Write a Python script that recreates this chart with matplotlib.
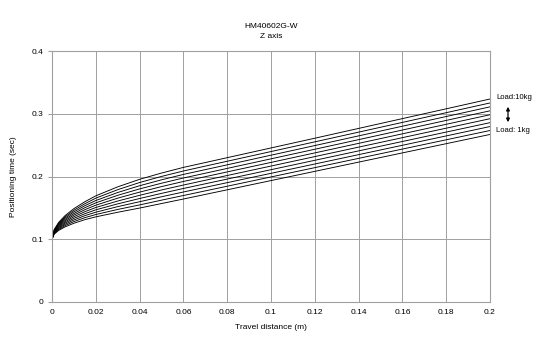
import matplotlib
matplotlib.use("Agg")
import matplotlib.pyplot as plt

# Travel distance (m)
distance = [0, 0.001, 0.003, 0.006, 0.01, 0.015, 0.02, 0.03, 0.04, 0.05, 0.06, 0.08, 0.12, 0.2]

# Positioning time (sec) per load (kg)
load_1kg  = [0.100, 0.1081, 0.1140, 0.1198, 0.1255, 0.1312, 0.1357, 0.1430, 0.1497, 0.1569, 0.1641, 0.1788, 0.2082, 0.2670]
load_2kg  = [0.100, 0.1089, 0.1154, 0.1218, 0.1281, 0.1344, 0.1394, 0.1475, 0.1547, 0.1623, 0.1697, 0.1845, 0.2141, 0.2733]
load_3kg  = [0.100, 0.1097, 0.1168, 0.1238, 0.1307, 0.1376, 0.1431, 0.1520, 0.1598, 0.1677, 0.1753, 0.1902, 0.2199, 0.2796]
load_4kg  = [0.100, 0.1105, 0.1182, 0.1258, 0.1333, 0.1407, 0.1469, 0.1564, 0.1649, 0.1731, 0.1809, 0.1959, 0.2258, 0.2858]
load_5kg  = [0.100, 0.1113, 0.1196, 0.1278, 0.1359, 0.1439, 0.1506, 0.1609, 0.1700, 0.1785, 0.1864, 0.2016, 0.2317, 0.2921]
load_6kg  = [0.100, 0.1122, 0.1211, 0.1298, 0.1385, 0.1471, 0.1543, 0.1655, 0.1751, 0.1839, 0.1921, 0.2073, 0.2376, 0.2984]
load_7kg  = [0.100, 0.1130, 0.1225, 0.1318, 0.1410, 0.1503, 0.1580, 0.1700, 0.1802, 0.1893, 0.1976, 0.2129, 0.2434, 0.3047]
load_8kg  = [0.100, 0.1138, 0.1239, 0.1338, 0.1436, 0.1535, 0.1617, 0.1745, 0.1853, 0.1947, 0.2033, 0.2186, 0.2493, 0.3110]
load_9kg  = [0.100, 0.1146, 0.1253, 0.1358, 0.1462, 0.1566, 0.1655, 0.1790, 0.1904, 0.2001, 0.2088, 0.2243, 0.2552, 0.3172]
load_10kg = [0.100, 0.1154, 0.1267, 0.1378, 0.1488, 0.1598, 0.1692, 0.1835, 0.1955, 0.2055, 0.2145, 0.2300, 0.2610, 0.3235]

series = [load_1kg, load_2kg, load_3kg, load_4kg, load_5kg,
          load_6kg, load_7kg, load_8kg, load_9kg, load_10kg]

x_ticks = [0, 0.02, 0.04, 0.06, 0.08, 0.1, 0.12, 0.14, 0.16, 0.18, 0.2]
x_tick_labels = ["0", "0.02", "0.04", "0.06", "0.08", "0.1", "0.12", "0.14", "0.16", "0.18", "0.2"]
y_ticks = [0, 0.1, 0.2, 0.3, 0.4]
y_tick_labels = ["0", "0.1", "0.2", "0.3", "0.4"]

plt.rcParams['font.family'] = ['Liberation Sans', 'DejaVu Sans']
fig = plt.figure(figsize=(5.5, 3.52), dpi=100)
ax = fig.add_axes([52/550, 1-302/352, (490-52)/550, (302-51)/352])

for s in series:
    ax.plot(distance, s, color='black', linewidth=0.65, solid_joinstyle='round')

ax.set_xlim(0, 0.2)
ax.set_ylim(0, 0.4)
ax.set_xticks(x_ticks)
ax.set_xticklabels(x_tick_labels)
ax.set_yticks(y_ticks)
ax.set_yticklabels(y_tick_labels)
ax.tick_params(axis='x', length=0, labelsize=6, pad=5)
ax.tick_params(axis='y', length=3, color='#a0a0a0', labelsize=6, pad=3)
ax.grid(True, color='#a0a0a0', linewidth=0.7)
ax.set_axisbelow(True)
for sp in ax.spines.values():
    sp.set_color('#a0a0a0')
    sp.set_linewidth(0.8)

ax.set_xlabel("Travel distance (m)", fontsize=6, labelpad=6)
ax.set_ylabel("Positioning time (sec)", fontsize=6, labelpad=11)

fig.text(271/550, 1-27/352, "HM40602G-W", ha='center', va='center', fontsize=6)
fig.text(271/550, 1-37/352, "Z axis", ha='center', va='center', fontsize=6)

fig.text(496/550, 1-98/352, "Load:10kg", ha='left', va='center', fontsize=5.5)
fig.text(496/550, 1-131/352, "Load: 1kg", ha='left', va='center', fontsize=5.5)
fig.add_artist(matplotlib.patches.FancyArrowPatch(
    (508/550, 1-104/352), (508/550, 1-125/352),
    transform=fig.transFigure, arrowstyle='<|-|>', mutation_scale=5,
    color='black', linewidth=0.9))

fig.savefig("out.png", dpi=100)
